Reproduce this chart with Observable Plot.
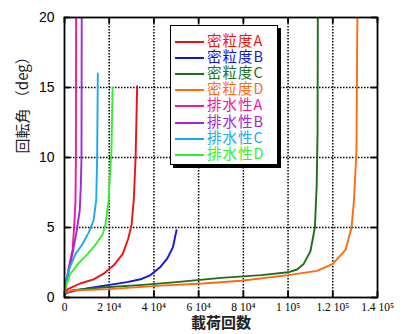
<!DOCTYPE html>
<html>
<head>
<meta charset="utf-8">
<script src="https://cdn.jsdelivr.net/npm/d3@7"></script>
<script src="https://cdn.jsdelivr.net/npm/@observablehq/plot@0.6"></script>
<style>
  html, body { margin: 0; padding: 0; background: #fff; }
  #wrap { position: relative; width: 405px; height: 334px; }
  #legend { position: absolute; left: 170px; top: 25px; width: 106px; height: 138px;
            background: #fff; border: 1.5px solid #000; box-shadow: 3px 3px 0 #000;
            font-family: "Noto Sans CJK JP", sans-serif; font-size: 14.5px; letter-spacing: 1px; }
  .item { position: absolute; left: 4px; height: 16px; line-height: 16px; white-space: nowrap; }
  .swatch { display: inline-block; width: 29px; height: 0; border-top: 2px solid; vertical-align: middle; margin-right: 3px; }
</style>
</head>
<body>
<div id="wrap"></div>
<script>
// ---- data ----
const seriesNames = ["密粒度A", "密粒度B", "密粒度C", "密粒度D", "排水性A", "排水性B", "排水性C", "排水性D"];
const seriesColors = ["#ee1111", "#1414dd", "#1e6e1e", "#ff6a10", "#f0189a", "#a028d8", "#18aaee", "#30ee30"];

const denseA_x = [0, 1500, 7000, 13000, 17500, 22000, 26000, 28500, 30000, 31000, 31800, 32500];
const denseA_y = [0.3, 0.6, 1.0, 1.3, 1.7, 2.3, 3.1, 4.2, 5.2, 7, 10, 15.1];
const denseB_x = [0, 5000, 12000, 20000, 28000, 34000, 38500, 43000, 46000, 48500, 50100];
const denseB_y = [0.3, 0.5, 0.7, 0.9, 1.1, 1.3, 1.6, 2.2, 2.8, 3.6, 4.8];
const denseC_x = [0, 3000, 15000, 35000, 50000, 70000, 88000, 100000, 104000, 107000, 110000, 112000, 112800, 113200, 113300];
const denseC_y = [0.2, 0.5, 0.7, 0.9, 1.1, 1.4, 1.6, 1.8, 2.0, 2.4, 3.3, 5, 8, 12, 20];
const denseD_x = [0, 3000, 20000, 43000, 62000, 79000, 100000, 113000, 120000, 125700, 128400, 129500, 130600, 131000];
const denseD_y = [0.3, 0.5, 0.6, 0.85, 1.0, 1.2, 1.6, 1.9, 2.4, 3.4, 5, 7, 10.5, 20];
const drainA_x = [0, 500, 1500, 2500, 3600, 4300, 4900, 5100, 5200];
const drainA_y = [0, 0.8, 1.8, 2.6, 3.4, 5, 6.9, 10, 20];
const drainB_x = [0, 1000, 2500, 4000, 5500, 6800, 7300, 7600, 7700];
const drainB_y = [0.5, 1.2, 2.3, 3.5, 4.8, 6.2, 8, 10, 20];
const drainC_x = [0, 2000, 4900, 8000, 10700, 13000, 14200, 14600, 14900];
const drainC_y = [0.8, 2.0, 3.1, 3.8, 4.6, 5.5, 7, 10, 16];
const drainD_x = [0, 1000, 2700, 6000, 10300, 14000, 17000, 18300, 19700, 21000, 21500];
const drainD_y = [0.3, 1.0, 1.7, 2.4, 3.1, 3.8, 4.5, 5.2, 6.9, 10.5, 15];

const xTicks = [0, 20000, 40000, 60000, 80000, 100000, 120000, 140000];
const xTickLabels = ["0", "2 10⁴", "4 10⁴", "6 10⁴", "8 10⁴", "1 10⁵", "1.2 10⁵", "1.4 10⁵"];
const yTicks = [0, 5, 10, 15, 20];
const xTitle = "載荷回数";
const yTitle = "回転角 （deg）";

// ---- build table ----
const seriesX = [denseA_x, denseB_x, denseC_x, denseD_x, drainA_x, drainB_x, drainC_x, drainD_x];
const seriesY = [denseA_y, denseB_y, denseC_y, denseD_y, drainA_y, drainB_y, drainC_y, drainD_y];
const rows = [];
seriesNames.forEach((name, i) => {
  seriesX[i].forEach((x, j) => rows.push({ name, x, y: seriesY[i][j] }));
});

const plot = Plot.plot({
  width: 405,
  height: 334,
  marginLeft: 64,
  marginRight: 28,
  marginTop: 17,
  marginBottom: 37,
  style: { background: "#fff", fontFamily: "'Liberation Serif', serif", color: "#000" },
  x: { domain: [0, 140000] },
  y: { domain: [0, 20] },
  color: { domain: seriesNames, range: seriesColors },
  marks: [
    Plot.gridX(xTicks.slice(1, -1), { stroke: "#000", strokeOpacity: 1, strokeDasharray: "1.5,1.5", strokeWidth: 1.5 }),
    Plot.gridY(yTicks.slice(1, -1), { stroke: "#000", strokeOpacity: 1, strokeDasharray: "1.5,1.5", strokeWidth: 1.5 }),
    Plot.tickX(xTicks, { stroke: "#000", insetTop: 274, strokeWidth: 1.8 }),
    Plot.tickX(xTicks, { stroke: "#000", insetBottom: 274, strokeWidth: 1.8 }),
    Plot.tickY(yTicks, { stroke: "#000", insetRight: 307, strokeWidth: 1.8 }),
    Plot.tickY(yTicks, { stroke: "#000", insetLeft: 307, strokeWidth: 1.8 }),
    Plot.line(rows, { x: "x", y: "y", z: "name", stroke: "name", strokeWidth: 1.9, clip: true, curve: "linear" }),
    Plot.frame({ stroke: "#000", strokeWidth: 1.8 }),
    Plot.axisX(xTicks, { tickSize: 0, tickPadding: 5, fontSize: 11.5, tickFormat: (d, i) => xTickLabels[i], label: null }),
    Plot.axisY(yTicks, { tickSize: 0, tickPadding: 10, fontSize: 14, fontFamily: "'Liberation Sans', sans-serif", label: null }),
    Plot.text([xTitle], { frameAnchor: "bottom", dy: 30, fontSize: 15, fontWeight: "bold", fontFamily: "'Noto Sans CJK JP', sans-serif", fill: "#222" }),
    Plot.text([yTitle], { frameAnchor: "left", dx: -41, dy: -4, rotate: -90, fontSize: 15, fontFamily: "'Noto Sans CJK JP', sans-serif", fill: "#222" })
  ]
});

const wrap = document.getElementById("wrap");
wrap.appendChild(plot);

const legend = document.createElement("div");
legend.id = "legend";
seriesNames.forEach((name, i) => {
  const item = document.createElement("div");
  item.className = "item";
  item.style.top = (6 + i * 16.1) + "px";
  item.style.color = seriesColors[i];
  item.innerHTML = `<span class="swatch" style="border-color:${seriesColors[i]}"></span>${name}`;
  legend.appendChild(item);
});
wrap.appendChild(legend);
</script>
</body>
</html>
